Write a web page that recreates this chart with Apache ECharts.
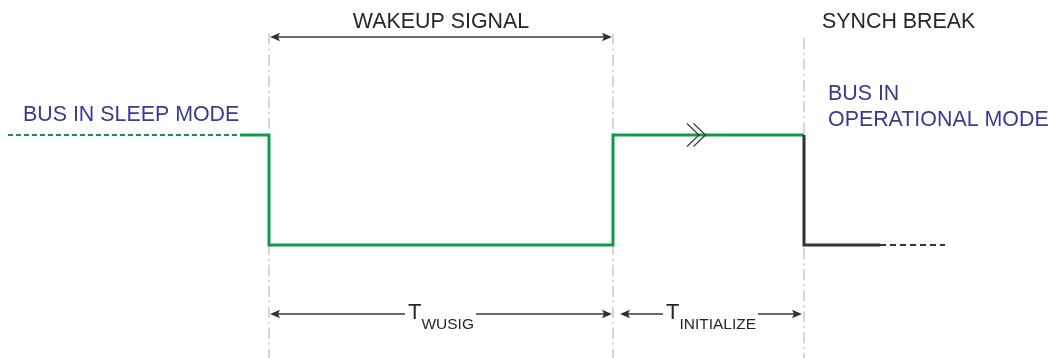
<!DOCTYPE html>
<html>
<head>
<meta charset="utf-8">
<script src="https://cdn.jsdelivr.net/npm/echarts@6/dist/echarts.min.js"></script>
<style>
html,body{margin:0;padding:0;background:#fff;}
#chart{width:1049px;height:358px;}
</style>
</head>
<body>
<div id="chart"></div>
<script>
// ---- data (time axis in diagram units, levels: 1 = recessive/high, 0 = dominant/low) ----
const sleepTimes  = [8, 240];
const sleepLevels = [1, 1];
const greenTimes  = [240, 269, 269, 613, 613, 804];
const greenLevels = [1, 1, 0, 0, 1, 1];
const blackTimes  = [804, 804, 880];
const blackLevels = [1, 0, 0];
const tailTimes   = [880, 945];
const tailLevels  = [0, 0];
const guideTimes  = [269, 613, 804];
const guideTops   = [1.92, 1.92, 1.88];
const chevronTimes = [699];
const chevronLevels = [1];

const wakeSpanStart = [270];
const wakeSpanEnd   = [612];
const wakeSpanRow   = [1.891];
const wakeSpanText  = ['WAKEUP SIGNAL'];
const wakeTextRow   = [2.025];

const timingStarts = [270, 620];
const timingEnds   = [612, 802];
const timingMain   = ['T', 'T'];
const timingSub    = ['WUSIG', 'INITIALIZE'];
const timingRow    = [-0.627, -0.627];

const noteTexts = ['SYNCH BREAK', 'BUS IN SLEEP MODE', 'BUS IN', 'OPERATIONAL MODE'];
const noteTimes = [822, 23, 828, 828];
const noteRows  = [2.022, 1.182, 1.373, 1.136];
const noteKinds = ['dark', 'blue', 'blue', 'blue'];

// ---- styles ----
const GREEN = '#0f9a4c', BLACK = '#333333', GUIDE = '#c9c9c9';
const DARKTXT = '#262626', BLUETXT = '#383c90';
const FONT = 'Liberation Sans, Arial, sans-serif';
const FS = 21.4;

const zip = (xs, ys) => xs.map((x, i) => [x, ys[i]]);
const measureCtx = document.createElement('canvas').getContext('2d');
function textW(t, size) { measureCtx.font = size + 'px ' + FONT; return measureCtx.measureText(t).width; }
function arrowHead(tipX, tipY, dir) {
  const len = 10, half = 4.3, notch = 8;
  return { type: 'polygon', shape: { points: [
    [tipX, tipY], [tipX - dir * len, tipY - half], [tipX - dir * notch, tipY], [tipX - dir * len, tipY + half]
  ] }, style: { fill: BLACK, stroke: null } };
}

const chart = echarts.init(document.getElementById('chart'), null, { renderer: 'canvas' });

const series = [];
// guides (dash-dot)
guideTimes.forEach((t, i) => {
  series.push({ type: 'line', data: [[t, guideTops[i]], [t, -1.03]], symbol: 'none', silent: true, z: 1,
    lineStyle: { color: GUIDE, width: 1.5, type: [11, 4, 2, 4] } });
});
series.push({ type: 'line', data: zip(sleepTimes, sleepLevels), symbol: 'none', z: 3,
  lineStyle: { color: GREEN, width: 1.8, type: [5, 3] } });
series.push({ type: 'line', data: zip(greenTimes, greenLevels), symbol: 'none', z: 4,
  lineStyle: { color: GREEN, width: 3, join: 'miter', cap: 'butt' } });
series.push({ type: 'line', data: zip(blackTimes, blackLevels), symbol: 'none', z: 4,
  lineStyle: { color: BLACK, width: 3, join: 'miter', cap: 'butt' } });
series.push({ type: 'line', data: zip(tailTimes, tailLevels), symbol: 'none', z: 3,
  lineStyle: { color: BLACK, width: 2, type: [6, 4] } });

// chevron marker
series.push({ type: 'custom', z: 6, silent: true, clip: false,
  data: zip(chevronTimes, chevronLevels),
  renderItem: function (params, api) {
    const p = api.coord([api.value(0), api.value(1)]);
    const mk = (dx) => ({ type: 'polyline', shape: { points: [[p[0] + dx - 12, p[1] - 11.5], [p[0] + dx, p[1]], [p[0] + dx - 12, p[1] + 11.5]] },
      style: { stroke: BLACK, lineWidth: 1.1, fill: null } });
    return { type: 'group', children: [mk(0), mk(6.5)] };
  } });

// wakeup span arrow with label above
series.push({ type: 'custom', z: 5, silent: true, clip: false,
  data: wakeSpanStart.map((s, i) => [s, wakeSpanEnd[i], wakeSpanRow[i], wakeTextRow[i]]),
  renderItem: function (params, api) {
    const i = params.dataIndex;
    const a = api.coord([api.value(0), api.value(2)]);
    const b = api.coord([api.value(1), api.value(2)]);
    const t = api.coord([(api.value(0) + api.value(1)) / 2, api.value(3)]);
    return { type: 'group', children: [
      { type: 'line', shape: { x1: a[0] + 6, y1: a[1], x2: b[0] - 6, y2: b[1] }, style: { stroke: '#3a3a3a', lineWidth: 1.4 } },
      arrowHead(a[0], a[1], -1), arrowHead(b[0], b[1], 1),
      { type: 'text', x: t[0], y: t[1], style: { text: wakeSpanText[i], fill: DARKTXT, fontSize: FS, fontFamily: FONT, align: 'center', verticalAlign: 'middle' } }
    ] };
  } });

// timing dimension arrows with subscripted labels
series.push({ type: 'custom', z: 5, silent: true, clip: false,
  data: timingStarts.map((s, i) => [s, timingEnds[i], timingRow[i]]),
  renderItem: function (params, api) {
    const i = params.dataIndex;
    const a = api.coord([api.value(0), api.value(2)]);
    const b = api.coord([api.value(1), api.value(2)]);
    const mid = (a[0] + b[0]) / 2;
    const wMain = textW(timingMain[i], 22), wSub = textW(timingSub[i], 15.5);
    const left = mid - (wMain + wSub) / 2;
    const right = left + wMain + wSub;
    return { type: 'group', children: [
      { type: 'line', shape: { x1: a[0] + 6, y1: a[1], x2: left - 3, y2: a[1] }, style: { stroke: '#3a3a3a', lineWidth: 1.4 } },
      { type: 'line', shape: { x1: right + 2, y1: b[1], x2: b[0] - 6, y2: b[1] }, style: { stroke: '#3a3a3a', lineWidth: 1.4 } },
      arrowHead(a[0], a[1], -1), arrowHead(b[0], b[1], 1),
      { type: 'text', x: left, y: a[1] - 1, style: { text: timingMain[i], fill: DARKTXT, fontSize: 22, fontFamily: FONT, align: 'left', verticalAlign: 'middle' } },
      { type: 'text', x: left + wMain, y: a[1] + 10.5, style: { text: timingSub[i], fill: DARKTXT, fontSize: 15.5, fontFamily: FONT, align: 'left', verticalAlign: 'middle' } }
    ] };
  } });

// notes
series.push({ type: 'custom', z: 5, silent: true, clip: false,
  data: zip(noteTimes, noteRows),
  renderItem: function (params, api) {
    const i = params.dataIndex;
    const p = api.coord([api.value(0), api.value(1)]);
    return { type: 'text', x: p[0], y: p[1], style: { text: noteTexts[i], fill: noteKinds[i] === 'blue' ? BLUETXT : DARKTXT,
      fontSize: FS, fontFamily: FONT, align: 'left', verticalAlign: 'middle' } };
  } });

chart.setOption({
  animation: false,
  backgroundColor: '#ffffff',
  grid: { left: 0, right: 0, top: 0, bottom: 0, containLabel: false },
  xAxis: { type: 'value', min: 0, max: 1049, show: false },
  yAxis: { type: 'value', min: -1.02727, max: 2.22727, show: false },
  series: series
});
</script>
</body>
</html>
